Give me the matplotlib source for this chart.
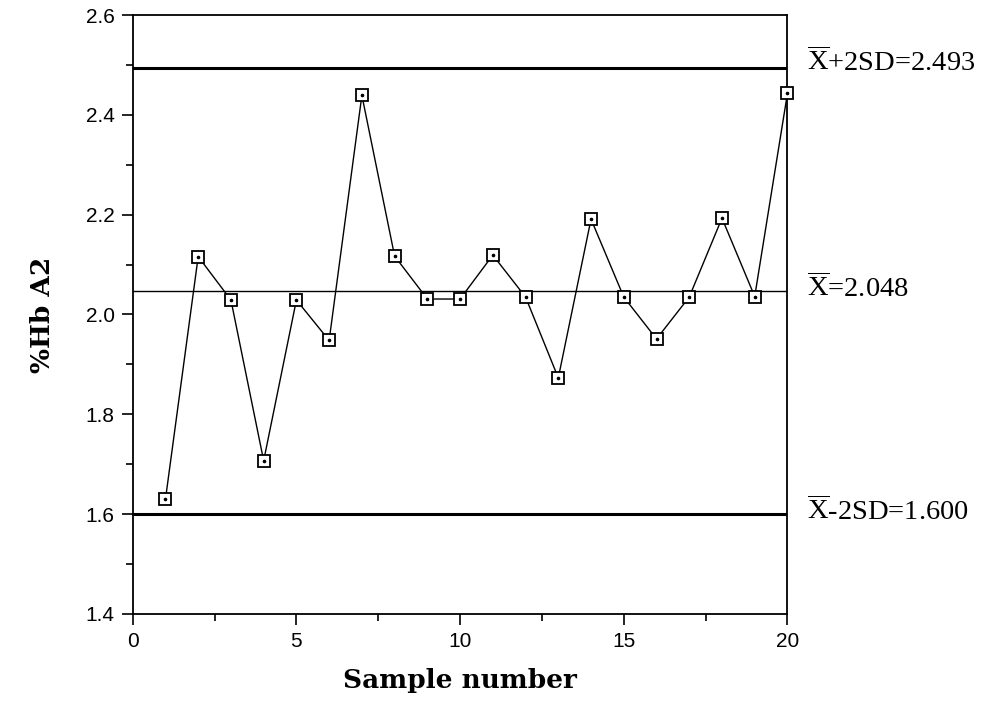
import matplotlib
matplotlib.use("Agg")
import matplotlib.pyplot as plt
from matplotlib.ticker import MultipleLocator

sample = list(range(1, 21))
hba2 = [1.630, 2.116, 2.029, 1.707, 2.029, 1.948, 2.439, 2.117, 2.031, 2.031,
        2.119, 2.035, 1.873, 2.191, 2.035, 1.951, 2.035, 2.193, 2.036, 2.443]

mean = 2.048
ucl = 2.493
lcl = 1.600

plt.rcParams['mathtext.fontset'] = 'custom'
plt.rcParams['mathtext.rm'] = 'Liberation Serif'

fig = plt.figure(figsize=(9.92, 7.08), dpi=100)
ax = fig.add_axes([0.1338, 0.1328, 0.66, 0.846])

ax.axhline(ucl, color='black', lw=2.2)
ax.axhline(mean, color='black', lw=1.0)
ax.axhline(lcl, color='black', lw=2.2)

ax.plot(sample, hba2, color='black', lw=1.0, marker='s', ms=8,
        mfc='white', mec='black', mew=1.3, zorder=3, clip_on=False)
ax.plot(sample, hba2, ls='none', marker='o', ms=1.6, color='black', zorder=4,
        clip_on=False)

ax.set_xlim(0, 20)
ax.set_ylim(1.4, 2.6)
ax.xaxis.set_major_locator(MultipleLocator(5))
ax.xaxis.set_minor_locator(MultipleLocator(2.5))
ax.yaxis.set_major_locator(MultipleLocator(0.2))
ax.yaxis.set_minor_locator(MultipleLocator(0.1))
ax.yaxis.set_major_formatter(plt.FuncFormatter(lambda v, p: f'{v:.1f}'))
ax.tick_params(which='major', direction='out', length=8, width=1.2,
               labelsize=15, pad=5)
ax.tick_params(which='minor', direction='out', length=5, width=1.2)
for lab in ax.get_xticklabels() + ax.get_yticklabels():
    lab.set_family('Liberation Sans')
for s in ax.spines.values():
    s.set_linewidth(1.3)

ax.set_xlabel('Sample number', fontsize=19, fontweight='bold',
              family='DejaVu Serif', labelpad=12)
ax.set_ylabel('%Hb A2', fontsize=19, fontweight='bold',
              family='DejaVu Serif', labelpad=22)

lab_kw = dict(transform=ax.get_yaxis_transform(), fontsize=20.5,
              family='Liberation Serif', va='center', ha='left')
ax.text(1.03, ucl + 0.012, r'$\overline{\mathrm{X}}$+2SD=2.493', **lab_kw)
ax.text(1.03, mean + 0.005, r'$\overline{\mathrm{X}}$=2.048', **lab_kw)
ax.text(1.03, lcl + 0.005, r'$\overline{\mathrm{X}}$-2SD=1.600', **lab_kw)

fig.savefig('out.png', dpi=100)
